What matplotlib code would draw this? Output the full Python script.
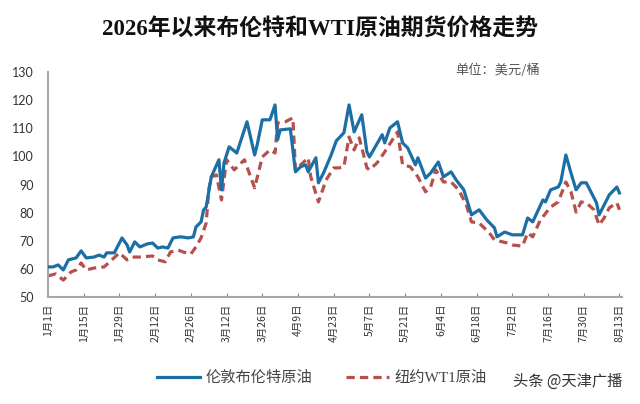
import numpy as np
import matplotlib
matplotlib.use("Agg")
import matplotlib.pyplot as plt

# data (day = days since 2026-01-01)
brent_days = [0, 2, 4, 6, 8, 11, 13, 15, 18, 20, 22, 23, 26, 29, 31, 32, 34, 36, 39, 41,
              43, 45, 47, 49, 52, 55, 57, 58, 60, 61, 62, 64, 67, 68, 69, 71, 74, 78, 79, 81,
              82, 84, 87, 89, 90, 91, 95, 97, 99, 101, 102, 105, 106, 108, 111, 113, 116, 118, 120, 123,
              125, 126, 131, 132, 134, 137, 139, 141, 144, 145, 148, 150, 153, 155, 158, 160, 163, 166, 169, 172,
              175, 176, 179, 182, 186, 188, 190, 194, 195, 197, 200, 201, 203, 205, 207, 209, 211, 215, 216, 218,
              220, 223, 224]
brent = [60.7, 60.7, 61.4, 59.6, 63.2, 63.9, 66.4, 63.9, 64.2, 64.9, 64.2, 65.7, 65.7, 71.0, 68.5, 66.0, 69.6, 67.8, 68.9, 69.2,
         67.4, 67.8, 67.4, 71.0, 71.4, 71.0, 71.4, 74.9, 76.7, 81.0, 82.0, 92.7, 98.8, 88.1, 97.7, 103.4, 101.2, 112.3, 108.4, 100.5,
         104.1, 113.0, 113.0, 118.3, 105.9, 109.4, 109.8, 94.5, 96.3, 97.0, 94.5, 99.5, 90.6, 94.1, 100.5, 105.5, 108.4, 118.3, 108.7, 114.8,
         101.6, 99.8, 107.7, 104.8, 110.1, 112.3, 104.8, 103.0, 97.0, 99.5, 92.3, 94.1, 98.0, 92.7, 94.5, 91.6, 88.1, 79.2, 81.0, 77.4,
         74.6, 71.4, 73.1, 72.1, 72.1, 78.1, 76.7, 84.5, 83.8, 88.1, 89.1, 90.9, 100.5, 94.1, 88.1, 90.6, 90.6, 83.5, 79.2, 82.7,
         86.3, 89.1, 87.0]

wti_days = [0, 3, 6, 9, 11, 13, 15, 18, 22, 25, 28, 31, 33, 36, 41, 43, 46, 48, 51, 53,
            56, 58, 60, 62, 63, 64, 66, 68, 70, 73, 77, 81, 84, 87, 89, 90, 93, 96, 97, 102,
            103, 106, 109, 112, 114, 116, 118, 120, 122, 125, 126, 129, 132, 135, 137, 139, 142, 145, 148, 150,
            152, 155, 158, 161, 164, 166, 169, 173, 175, 180, 182, 186, 188, 190, 193, 197, 200, 203, 205, 207,
            209, 211, 214, 216, 218, 220, 223, 224]
wti = [57.5, 58.2, 56.0, 58.9, 59.6, 62.1, 59.6, 60.3, 60.7, 63.2, 65.7, 63.2, 64.2, 64.2, 64.6, 63.2, 62.5, 66.0, 66.7, 66.0,
       65.3, 67.8, 71.0, 76.3, 88.1, 92.7, 93.4, 84.5, 98.8, 95.2, 98.8, 88.8, 99.8, 102.3, 101.2, 111.9, 112.3, 113.7, 95.2, 99.5,
       92.7, 83.8, 91.6, 95.9, 95.9, 96.3, 106.9, 102.3, 106.6, 95.9, 95.2, 97.7, 101.6, 105.9, 108.7, 97.0, 96.3, 92.7, 87.4, 89.1,
       95.2, 90.9, 90.9, 88.1, 82.7, 76.7, 76.3, 72.8, 70.3, 69.2, 68.5, 68.1, 72.8, 71.4, 77.4, 82.0, 83.8, 90.9, 87.4, 80.2,
       83.8, 83.5, 81.0, 75.6, 78.1, 81.7, 83.5, 81.0]

tick_days = [0, 14, 28, 42, 56, 70, 84, 98, 112, 126, 140, 154, 168, 182, 196, 210, 224]
tick_labels = ["1月1日", "1月15日", "1月29日", "2月12日", "2月26日", "3月12日", "3月26日", "4月9日",
               "4月23日", "5月7日", "5月21日", "6月4日", "6月18日", "7月2日", "7月16日", "7月30日", "8月13日"]
y_ticks = [50, 60, 70, 80, 90, 100, 110, 120, 130]

title = "2026年以来布伦特和WTI原油期货价格走势"
unit = "单位：美元/桶"
names = ["伦敦布伦特原油", "纽约WT1原油"]
watermark = "头条 @天津广播"

serif_cjk = ["Liberation Serif", "Noto Sans CJK SC"]
sans_cjk = ["Noto Sans CJK SC", "DejaVu Sans"]

fig = plt.figure(figsize=(6.4, 4.04), dpi=100)
ax = fig.add_axes([48 / 640, 1 - 297 / 404, (622 - 48) / 640, (297 - 72) / 404])

ax.plot(brent_days, brent, color="#1b6fa5", lw=2.3, solid_joinstyle="round", label=names[0], zorder=3)
ax.plot(wti_days, wti, color="#b5504c", lw=2.3, dashes=(2.6, 1.6), label=names[1], zorder=2)

ax.set_xlim(0, 225)
ax.set_ylim(50, 130)
ax.set_xticks(tick_days)
ax.set_xticklabels(tick_labels, rotation=90, fontsize=7.5, family=sans_cjk, color="#333333")
ax.set_yticks(y_ticks)
ax.set_yticklabels([str(v) for v in y_ticks], fontsize=9, family=["Lato", "DejaVu Sans"], color="#333333")
ax.tick_params(axis="x", direction="in", length=3, color="#888888", pad=5)
ax.tick_params(axis="y", length=0, pad=10)

for s in ["top", "right"]:
    ax.spines[s].set_visible(False)
for s in ["left", "bottom"]:
    ax.spines[s].set_color("#a6a6a6")
    ax.spines[s].set_linewidth(1.5)

fig.text(0.5, 1 - 30 / 404, title, ha="center", va="center", fontsize=16.5,
         fontweight="bold", family=serif_cjk, color="#111111")
fig.text(455 / 640, 1 - 70 / 404, unit, ha="left", va="center", fontsize=9.5,
         family=sans_cjk, color="#555555")

leg = fig.legend(loc="center", bbox_to_anchor=(322 / 640, 1 - 378 / 404), ncol=2, frameon=False,
                 handlelength=2.8, handletextpad=0.4, columnspacing=2.2,
                 prop={"family": serif_cjk, "size": 11})
for t in leg.get_texts():
    t.set_color("#444444")

fig.text(568 / 640, 1 - 381 / 404, watermark, ha="center", va="center", fontsize=11,
         family=sans_cjk, color="#333333")

fig.savefig("out.png", dpi=100)
